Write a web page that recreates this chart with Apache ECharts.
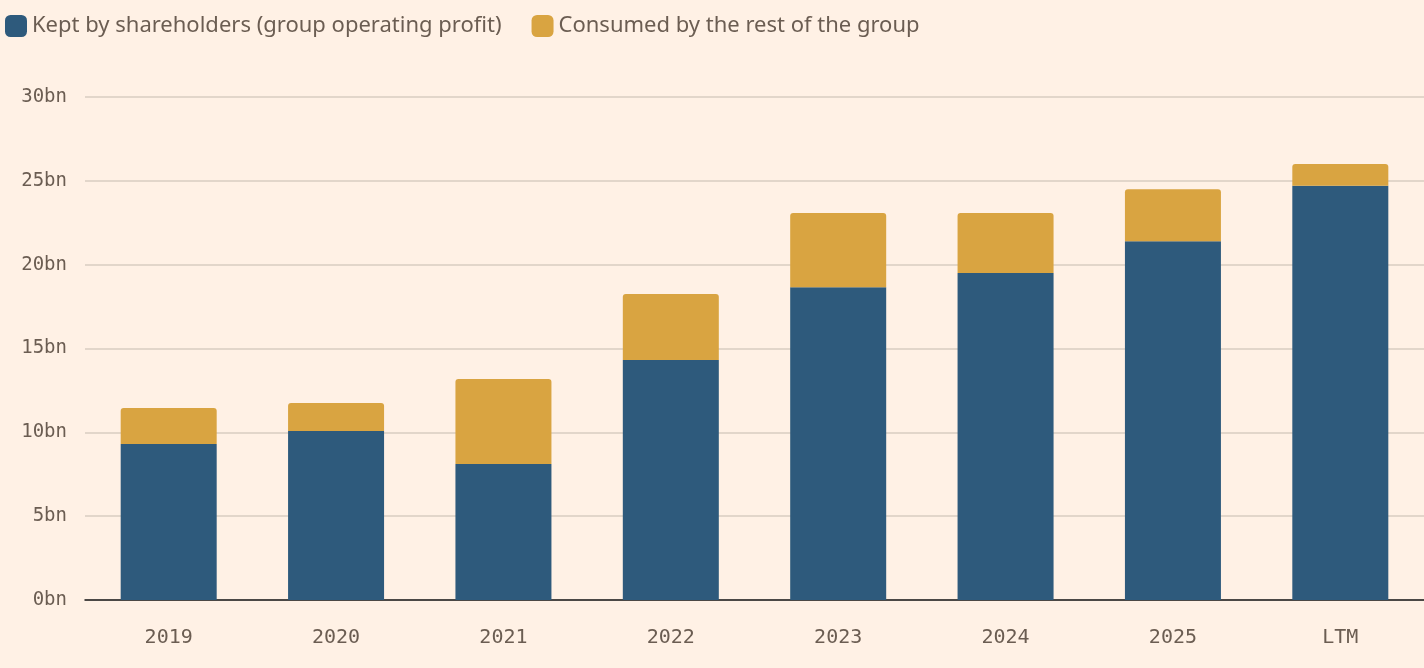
<!DOCTYPE html>
<html><head><meta charset="utf-8">
<script src="https://cdn.jsdelivr.net/npm/echarts@6/dist/echarts.min.js"></script>
<style>html,body{margin:0;background:#fff1e5}#main{width:1424px;height:668px}</style>
</head><body><div id="main"></div>
<script>
  var myChart = echarts.init(document.getElementById('main'));

  let categories=['2019','2020','2021','2022','2023','2024','2025','LTM'];
  let kept=[9.3,10.08,8.11,14.31,18.66,19.5,21.4,24.7];
  let consumed=[2.15,1.67,5.07,3.94,4.42,3.58,3.1,1.3];
  let yTicks=[0,5,10,15,20,25,30];

  var option = {
    backgroundColor:'#fff1e5',
    legend:{
      left:0, top:10, itemWidth:22, itemHeight:22, itemGap:30,
      icon:'roundRect',
      textStyle:{fontFamily:'Noto Sans',fontSize:22,color:'#6b5d52'},
      data:['Kept by shareholders (group operating profit)','Consumed by the rest of the group']
    },
    grid:{left:85,right:0,top:97,bottom:68},
    xAxis:{
      type:'category', data:categories,
      axisLine:{lineStyle:{color:'#1a1a1a',width:1.5}},
      axisTick:{show:false},
      axisLabel:{fontFamily:'DejaVu Sans Mono',fontSize:20,color:'#6b5d52',margin:28}
    },
    yAxis:{
      type:'value', min:yTicks[0], max:yTicks[yTicks.length-1], interval:5,
      axisLabel:{fontFamily:'DejaVu Sans Mono',fontSize:19,color:'#6b5d52',margin:18,
        formatter:v=>v+'bn'},
      splitLine:{lineStyle:{color:'#d8cdc0',width:1.5}}
    },
    series:[
      {name:'Kept by shareholders (group operating profit)',type:'bar',stack:'a',barWidth:96,
       itemStyle:{color:'#2e5a7c'},data:kept},
      {name:'Consumed by the rest of the group',type:'bar',stack:'a',barWidth:96,
       itemStyle:{color:'#d9a441',borderRadius:[3,3,0,0]},data:consumed}
    ]
  };
  myChart.setOption(option);
</script></body></html>
